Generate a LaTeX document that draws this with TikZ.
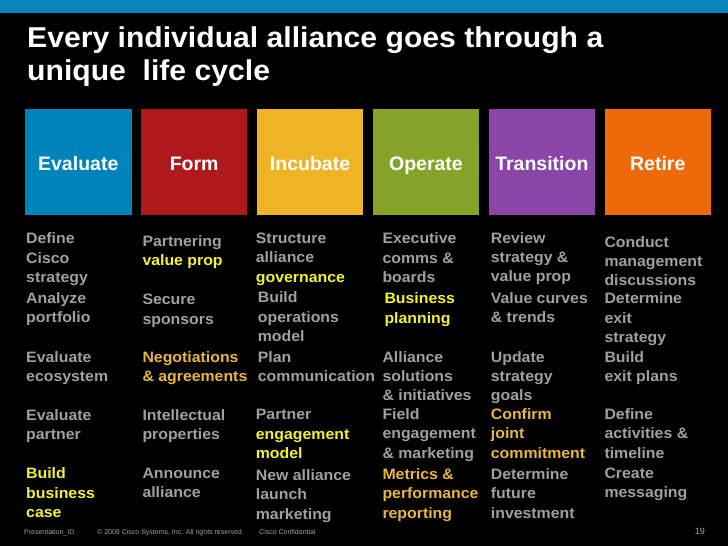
\documentclass[tikz,border=0pt]{standalone}
\usepackage{fontspec}
\usepackage{tikz}
\usetikzlibrary{positioning}

\newfontfamily\bodyfont[FakeStretch=1.05]{Liberation Sans}
\newfontfamily\labelfont{Liberation Sans}

\definecolor{cbar}{RGB}{10,133,185}
\definecolor{cblue}{RGB}{0,130,186}
\definecolor{cred}{RGB}{176,25,28}
\definecolor{cyellow}{RGB}{238,180,38}
\definecolor{cgreen}{RGB}{134,163,41}
\definecolor{cpurple}{RGB}{138,69,166}
\definecolor{corange}{RGB}{236,106,10}
\definecolor{txtgray}{RGB}{160,160,160}
\definecolor{hiyellow}{RGB}{242,242,50}
\definecolor{higold}{RGB}{234,181,62}
\newcommand{\hlyellow}[1]{\textcolor{hiyellow}{#1}}
\newcommand{\hlgold}[1]{\textcolor{higold}{#1}}

\begin{document}
\begin{tikzpicture}[
    x=1pt, y=-1pt,
    node distance=0pt and 9pt,
    phase/.style={rectangle, minimum width=106.5pt, minimum height=106pt, inner sep=0pt, text height=17pt, text depth=0pt, text=white, font=\labelfont\bfseries\fontsize{19.5}{20}\selectfont},
    item/.style={anchor=north west, inner sep=0pt, align=left, text=txtgray, font=\bodyfont\bfseries\fontsize{15.1}{19.4}\selectfont},
    headline/.style={anchor=north west, inner sep=0pt, align=left, text=white, font=\bodyfont\bfseries\fontsize{28.7}{32.5}\selectfont},
    foot/.style={anchor=base west, inner sep=0pt, text=txtgray, font=\labelfont\fontsize{7}{8}\selectfont}
]

\fill[black] (0,0) rectangle (728,546);
\fill[cbar] (0,0) rectangle (728,13);

\node[headline] (title) at (27,26.8) {Every individual alliance goes through a\\unique~~life cycle};

\node[phase, fill=cblue] (evaluate) at (78.25,162) {Evaluate};
\node[phase, fill=cred, right=of evaluate] (form) {Form};
\node[phase, fill=cyellow, right=of form] (incubate) {Incubate};
\node[phase, fill=cgreen, right=of incubate] (operate) {Operate};
\node[phase, fill=cpurple, right=of operate] (transition) {Transition};
\node[phase, fill=corange, right=of transition] (retire) {Retire};

\node[item] (ev1) at (26,232.5) {Define\\Cisco\\strategy};
\node[item] (ev2) at (26,292.2) {Analyze\\portfolio};
\node[item] (ev3) at (26,351.2) {Evaluate\\ecosystem};
\node[item] (ev4) at (26,409.2) {Evaluate\\partner};
\node[item, text=hiyellow] (ev5) at (26,467.5) {Build\\business\\case};

\node[item] (fo1) at (142.3,234.9) {Partnering\\\hlyellow{value prop}};
\node[item] (fo2) at (142.3,294.2) {Secure\\sponsors};
\node[item, text=higold] (fo3) at (142.3,351.2) {Negotiations\\\& agreements};
\node[item] (fo4) at (142.3,409.2) {Intellectual\\properties};
\node[item] (fo5) at (142.3,467.5) {Announce\\alliance};

\node[item] (in1) at (255.7,232.5) {Structure\\alliance\\\hlyellow{governance}};
\node[item] (in2) at (257.7,291.5) {Build\\operations\\model};
\node[item] (in3) at (257.7,351.2) {Plan\\communication};
\node[item] (in4) at (255.7,409.2) {Partner\\\hlyellow{engagement}\\\hlyellow{model}};
\node[item] (in5) at (255.7,469.2) {New alliance\\launch\\marketing};

\node[item] (op1) at (382.3,232.5) {Executive\\comms \&\\boards};
\node[item, text=hiyellow] (op2) at (384.3,292.5) {Business\\planning};
\node[item] (op3) at (382.3,350.9) {Alliance\\solutions\\\& initiatives};
\node[item] (op4) at (382.3,408.2) {Field\\engagement\\\& marketing};
\node[item, text=higold] (op5) at (382.3,468.2) {Metrics \&\\performance\\reporting};

\node[item] (tr1) at (490.7,231.9) {Review\\strategy \&\\value prop};
\node[item] (tr2) at (490.7,291.9) {Value curves\\\& trends};
\node[item] (tr3) at (490.7,350.9) {Update\\strategy\\goals};
\node[item, text=higold] (tr4) at (490.7,408.2) {Confirm\\joint\\commitment};
\node[item] (tr5) at (490.7,468.2) {Determine\\future\\investment};

\node[item] (re1) at (604.3,235.9) {Conduct\\management\\discussions};
\node[item] (re2) at (604.3,292.5) {Determine\\exit\\strategy};
\node[item] (re3) at (604.3,350.9) {Build\\exit plans};
\node[item] (re4) at (604.3,408.2) {Define\\activities \&\\timeline};
\node[item] (re5) at (604.3,467.5) {Create\\messaging};

\node[foot] (presid) at (24,534) {Presentation\_ID};
\node[foot] (copy) at (97,534) {© 2009 Cisco Systems, Inc. All rights reserved.};
\node[foot] (conf) at (259,534) {Cisco Confidential};
\node[foot, anchor=base east, font=\labelfont\fontsize{9}{10}\selectfont] (pagenum) at (705,534) {19};

\end{tikzpicture}
\end{document}
